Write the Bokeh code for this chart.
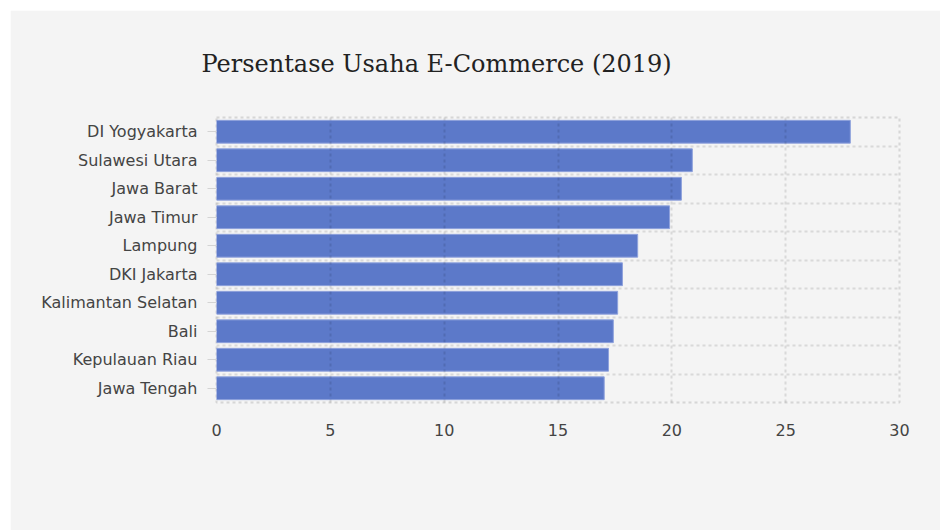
import numpy as np
from bokeh.plotting import figure
from bokeh.models import Range1d, FixedTicker, ColumnDataSource
from bokeh.embed import file_html
from bokeh.resources import INLINE

provinces = ["DI Yogyakarta", "Sulawesi Utara", "Jawa Barat", "Jawa Timur", "Lampung",
             "DKI Jakarta", "Kalimantan Selatan", "Bali", "Kepulauan Riau", "Jawa Tengah"]
persen = [27.84, 20.9, 20.42, 19.9, 18.5, 17.83, 17.62, 17.43, 17.22, 17.03]
x_ticks = [0, 5, 10, 15, 20, 25, 30]
title_text = "Persentase Usaha E-Commerce (2019)"

n = len(provinces)
ypos = [n - i - 0.5 for i in range(n)]
src = ColumnDataSource(dict(y=ypos, v=persen, name=provinces))

p = figure(width=930, height=520, output_backend="svg", toolbar_location=None,
           x_range=Range1d(0, 30), y_range=Range1d(0, n),
           min_border_left=206, min_border_right=41, min_border_top=107, min_border_bottom=128,
           margin=(10, 0, 0, 10))
p.border_fill_color = "#f4f4f4"
p.background_fill_color = "#f4f4f4"
p.outline_line_color = "black"
p.outline_line_alpha = 0.13
p.outline_line_width = 2
p.outline_line_dash = "3 3"

p.hbar(y="y", right="v", left=0, height=0.8, source=src,
       fill_color="#5c79c9", line_color="#8fa2dc", line_width=1)

# axes
p.xaxis.ticker = FixedTicker(ticks=x_ticks)
p.xaxis.axis_line_color = None
p.xaxis.major_tick_line_color = None
p.xaxis.minor_tick_line_color = None
p.xaxis.major_label_standoff = 15
p.xaxis.major_label_text_font = "DejaVu Sans"
p.xaxis.major_label_text_font_size = "16px"
p.xaxis.major_label_text_color = "#444444"

p.yaxis.ticker = FixedTicker(ticks=ypos)
p.yaxis.major_label_overrides = {y: name for y, name in zip(ypos, provinces)}
p.yaxis.axis_line_color = None
p.yaxis.minor_tick_line_color = None
p.yaxis.major_tick_out = 9
p.yaxis.major_tick_in = 0
p.yaxis.major_tick_line_color = "#d4d4d4"
p.yaxis.major_label_standoff = 10
p.yaxis.major_label_text_font = "DejaVu Sans"
p.yaxis.major_label_text_font_size = "16px"
p.yaxis.major_label_text_color = "#444444"

# grids
p.xgrid.ticker = FixedTicker(ticks=x_ticks)
p.ygrid.ticker = FixedTicker(ticks=list(range(n + 1)))
for g in (p.xgrid, p.ygrid):
    g.grid_line_color = "black"
    g.grid_line_alpha = 0.11
    g.grid_line_width = 2
    g.grid_line_dash = "3 3"
    g.level = "annotation"

# title
p.title.text = title_text
p.title.text_font = "DejaVu Serif"
p.title.text_font_size = "24px"
p.title.text_font_style = "normal"
p.title.text_color = "#222222"
p.title.align = "left"
p.title.vertical_align = "top"
p.title.offset = -15
p.title.standoff = 76

open("out.html", "w").write(file_html(p, INLINE))
